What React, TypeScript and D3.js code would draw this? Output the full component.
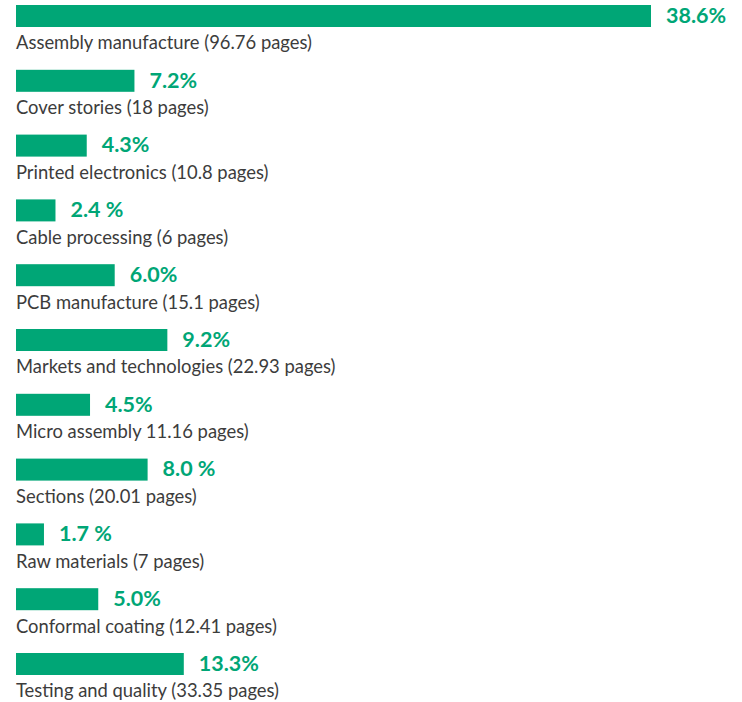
import React from "react";
import * as d3 from "d3";

const categories = [
  "Assembly manufacture (96.76 pages)",
  "Cover stories (18 pages)",
  "Printed electronics (10.8 pages)",
  "Cable processing (6 pages)",
  "PCB manufacture (15.1 pages)",
  "Markets and technologies (22.93 pages)",
  "Micro assembly 11.16 pages)",
  "Sections (20.01 pages)",
  "Raw materials (7 pages)",
  "Conformal coating (12.41 pages)",
  "Testing and quality (33.35 pages)",
];
// bar lengths as drawn in the picture (percent)
const barValues = [38.6, 7.2, 4.3, 2.4, 6.0, 9.2, 4.5, 8.0, 1.7, 5.0, 10.2];
const valueLabels = ["38.6%", "7.2%", "4.3%", "2.4 %", "6.0%", "9.2%", "4.5%", "8.0 %", "1.7 %", "5.0%", "13.3%"];

const W = 742;
const H = 702;
const GREEN = "#00a676";

export default function App() {
  const x = d3.scaleLinear().domain([0, 38.6]).range([16, 651]);
  const y = d3
    .scaleBand<string>()
    .domain(categories)
    .range([5, 5 + categories.length * 64.8])
    .paddingInner(0)
    .paddingOuter(0);
  const barH = 22;
  return (
    <svg
      width={W}
      height={H}
      style={{ position: "absolute", left: 0, top: 0 }}
      xmlns="http://www.w3.org/2000/svg"
    >
      <rect x={0} y={0} width={W} height={H} fill="#ffffff" />
      {categories.map((c, i) => {
        const y0 = y(c) as number;
        const x1 = x(barValues[i]);
        return (
          <g key={c}>
            <rect x={x(0)} y={y0} width={x1 - x(0)} height={barH} fill={GREEN} />
            <text
              x={x1 + 15}
              y={y0 + 17.8}
              fill={GREEN}
              fontFamily="Lato, 'Open Sans', sans-serif"
              fontWeight={700}
              fontSize={21.5}
            >
              {valueLabels[i]}
            </text>
            <text
              x={x(0)}
              y={y0 + 44.3}
              fill="#3c3c3c"
              fontFamily="Lato, 'Open Sans', sans-serif"
              fontSize={18.4}
            >
              {c}
            </text>
          </g>
        );
      })}
    </svg>
  );
}
